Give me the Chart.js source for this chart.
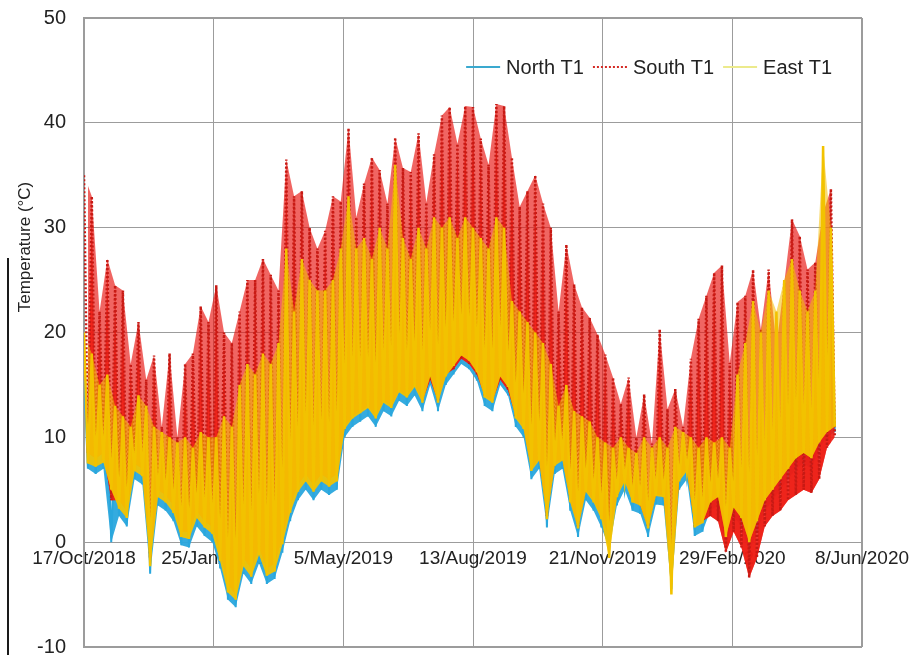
<!DOCTYPE html>
<html>
<head>
<meta charset="utf-8">
<title>Temperature T1</title>
<script src="https://cdn.jsdelivr.net/npm/chart.js@4.4.1/dist/chart.umd.min.js"></script>
<style>
  html, body { margin: 0; padding: 0; background: #fff; }
  #wrap { position: relative; width: 917px; height: 655px; }
  #edge { position: absolute; left: 7px; top: 258px; width: 2px; height: 397px; background: #1a1a1a; }
</style>
</head>
<body>
<div id="wrap">
  <canvas id="tempChart" width="917" height="655"></canvas>
  <div id="edge"></div>
</div>
<script>
// x axis: days since 17/Oct/2018, one label every 100 days
var dateLabels = ['17/Oct/2018', '25/Jan/2019', '5/May/2019', '13/Aug/2019', '21/Nov/2019', '29/Feb/2020', '8/Jun/2020'];
var seriesNames = ['North T1', 'South T1', 'East T1'];

// readings every 3 days: daily highs on days 0, 6, 12 ... and lows on days 3, 9, 15 ...
var dayStep = 3;

var northHigh = [16, 15, 13, 13, 11, 10, 9.5, 12, 11, 9.5,
  9, 8.5, 8, 8.5, 7.5, 9, 8.5, 8, 10, 9,
  12, 14, 13, 15, 14, 16, 23, 19, 22, 21,
  20, 21, 22, 24, 27, 24, 25, 24, 26, 24,
  29, 25, 24, 26, 25, 27, 26, 27, 26, 27,
  26, 25, 24, 27, 26, 20, 19, 18, 17, 16,
  15, 11.5, 13, 11, 10.5, 10, 9, 8.5, 8, 9,
  8, 7.5, 9, 8, 9, 8, 9.5, 9, 9, 8,
  9, 8.5, 9, 8, 13, 16, 19, 17, 20, 19,
  21, 23, 21, 19, 21, 30, 26];
var northLow = [7, 6.5, 7, 0, 2.5, 1.5, 6, 5.5, -3, 3.5,
  3, 2, -0.3, -0.5, 1.5, 0.6, 0, -2.5, -5.5, -6.2,
  -3, -4, -2, -4, -3.5, -1, 2, 4, 5, 4,
  5, 4.5, 5, 10, 11, 11.5, 12, 11, 12.5, 12,
  13.5, 13, 14, 12.5, 15, 12.5, 15, 16, 17, 16.5,
  15.4, 13, 12.5, 15, 14, 11, 10, 6, 7, 1.4,
  6.5, 7, 3, 0.5, 4, 3, 1.4, -0.5, 3.5, 5,
  3, 2.7, 0.5, 3.6, 3.5, -4.5, 5, 6, 0.6, 1,
  3, 3.5, -0.3, 2.5, 1.5, -1, 1, 3, 4, 5,
  6, 7, 7.5, 7, 9, 10, 10.5];

var southHigh = [35, 33, 22, 27, 24.5, 24, 17, 21, 15.5, 17.8,
  11, 18, 10, 17, 18, 22.5, 21, 24.5, 20, 19,
  22, 25, 25, 27, 25.5, 24, 36.5, 33, 33.5, 30,
  28, 29.7, 33, 32.5, 39.5, 31, 34.2, 36.7, 35.5, 32.3,
  38.6, 35.7, 35.3, 39, 32.4, 37, 40.7, 41.5, 38, 41.6,
  41.5, 38.5, 36, 41.8, 41.6, 36.7, 32, 33.5, 35, 32.3,
  30, 22, 28.4, 24.6, 22.4, 21.4, 19.8, 17.9, 15.7, 13.2,
  15.7, 10, 14.1, 9.4, 20.3, 12.7, 14.6, 11, 17.5, 21.3,
  23.5, 25.7, 26.4, 17.1, 22.9, 23.5, 26, 20.3, 26, 18.7,
  24.7, 30.8, 29.2, 26, 26.7, 31.4, 33.7];
var southLow = [8.5, 8, 8.5, 4, 4, 3, 7.5, 7, -1.5, 5,
  4.5, 3.5, 1, 1, 3, 2, 1.5, -1, -4, -5,
  -1.5, -2.5, -0.5, -2.5, -2, 0.5, 3.5, 5.5, 6.5, 5.5,
  6.5, 6, 6.5, 11, 12, 12.5, 13, 12, 13.5, 13,
  14.5, 14, 15, 13.5, 15.5, 13.5, 16, 16.5, 17.5, 17,
  16, 14, 13.5, 15.5, 14.5, 12, 11, 7, 8, 2.5,
  7.5, 8, 4, 1.5, 5, 4, 2.5, 0.5, 4.5, 6,
  4, 3.5, 1.5, 4.5, 4.5, -3.5, 6, 7, 1.5, 2,
  2.5, 2, -1, 1, -0.5, -3.4, -1.5, 1.5, 2.5, 3,
  4, 4.5, 5, 4.7, 6, 9, 10];

var eastHigh = [20, 18, 15, 16, 13, 12, 11, 14, 13, 11,
  10.5, 10, 9.5, 10, 9, 10.5, 10, 10, 12, 11,
  15, 17, 16, 18, 17, 19, 28, 22, 27, 25,
  24, 24, 25, 28, 33, 28, 29, 27, 30, 28,
  36, 29, 27, 30, 28, 31, 30, 31, 29, 31,
  30, 29, 28, 31, 30, 23, 22, 21, 20, 19,
  17, 13, 15, 12.5, 12, 11.5, 10, 9.5, 9, 10,
  9, 8.5, 10, 9, 10, 9, 11, 10.5, 10, 9,
  10, 9.5, 10, 9, 16, 19, 23, 20, 24, 22,
  25, 27, 24, 22, 24, 37.8, 30];
var eastLow = [7.5, 7.2, 7.6, 5, 3.2, 2.3, 6.8, 6.3, -2.3, 4.3,
  3.8, 2.8, 0.5, 0.3, 2.3, 1.4, 0.8, -1.8, -4.8, -5.5,
  -2.3, -3.3, -1.2, -3.2, -2.8, -0.2, 2.8, 4.8, 5.8, 4.8,
  5.8, 5.3, 5.8, 10.8, 11.8, 12.3, 12.8, 11.8, 13.3, 12.8,
  14.3, 13.8, 14.8, 13.3, 15.8, 13.3, 15.8, 16.8, 17.8, 17.3,
  16.2, 13.8, 13.3, 15.8, 14.8, 11.8, 10.8, 6.8, 7.8, 2.2,
  7.3, 7.8, 3.8, 1.3, 4.8, 3.8, 2.2, -1.5, 4.3, 5.8,
  3.8, 3.5, 1.3, 4.4, 4.3, -5, 5.8, 6.8, 1.4, 1.8,
  3.8, 4.3, 0.5, 3.3, 2.3, 0, 2, 4, 5, 6,
  7, 8, 8.5, 8, 9.5, 10.5, 11];

// put highs and lows back in time order
function toPoints(highs, lows) {
    var pts = [];
    for (var i = 0; i < highs.length; i++) {
        pts.push({ x: i * 2 * dayStep, y: highs[i] });
        if (i < lows.length) {
            pts.push({ x: (i * 2 + 1) * dayStep, y: lows[i] });
        }
    }
    return pts;
}

function highLine(highs) {
    return highs.map(function(v, i) { return { x: i * 2 * dayStep, y: v }; });
}
function lowLine(lows) {
    return lows.map(function(v, i) { return { x: (i * 2 + 1) * dayStep, y: v }; });
}

var textColor = '#222';
var gridColor = '#9c9c9c';
var lineColors = ['#2aa7dd', '#c81a14', '#f2c200'];
var fillColors = ['rgba(42,167,221,0.95)', 'rgba(238,30,22,0.92)', 'rgba(245,196,0,0.86)'];
var hazeColors = ['rgba(232,22,16,0.66)', 'rgba(244,190,0,0.55)'];
var legendColors = ['#3aa9cf', '#d42a24', '#ecea8c'];
Chart.defaults.font.family = "'Liberation Sans', Arial, sans-serif";

// legend drawn inside the plot + the y title (sits above the middle in the original)
var insideLegend = {
    id: 'insideLegend',
    afterDraw: function(chart) {
        var ctx = chart.ctx;
        var area = chart.chartArea;
        var sets = chart.data.datasets.slice(0, seriesNames.length);
        var sample = 34, gap = 6, spacing = 9;

        ctx.save();
        ctx.font = "20px 'Liberation Sans', Arial, sans-serif";
        ctx.textBaseline = 'middle';
        var total = spacing * (sets.length - 1);
        sets.forEach(function(ds) {
            total += sample + gap + ctx.measureText(ds.label).width;
        });
        var x = area.right - 30 - total;
        var y = area.top + 49;
        sets.forEach(function(ds, i) {
            ctx.strokeStyle = legendColors[i];
            ctx.lineWidth = 2;
            ctx.setLineDash(ds.borderDash || []);
            ctx.beginPath();
            ctx.moveTo(x, y);
            ctx.lineTo(x + sample, y);
            ctx.stroke();
            ctx.setLineDash([]);
            ctx.fillStyle = textColor;
            ctx.fillText(ds.label, x + sample + gap, y + 1);
            x += sample + gap + ctx.measureText(ds.label).width + spacing;
        });

        ctx.translate(25, area.top + 229);
        ctx.rotate(-Math.PI / 2);
        ctx.font = "17px 'Liberation Sans', Arial, sans-serif";
        ctx.textAlign = 'center';
        ctx.fillStyle = textColor;
        ctx.fillText('Temperature (°C)', 0, 0);
        ctx.restore();
    }
};

function edgeWidth(min, max) {
    return function(c) {
        return (c.tick && (c.tick.value === min || c.tick.value === max)) ? 2 : 1;
    };
}

// spread between a sensor's highs and lows, stands in for the dense daily strokes
function rangeSet(name, highs, floorIndex, color, order) {
    return {
        label: name + ' range',
        data: highLine(highs),
        borderColor: 'rgba(0,0,0,0)',
        borderWidth: 0,
        backgroundColor: color,
        fill: floorIndex,
        pointRadius: 0,
        order: order
    };
}
function floorSet(name, lows) {
    return {
        label: name + ' lows',
        data: lowLine(lows),
        borderColor: 'rgba(0,0,0,0)',
        borderWidth: 0,
        pointRadius: 0,
        order: 20
    };
}

var ctx = document.getElementById('tempChart').getContext('2d');
new Chart(ctx, {
    type: 'line',
    data: {
        datasets: [
            {
                label: seriesNames[0],
                data: toPoints(northHigh, northLow),
                borderColor: lineColors[0],
                backgroundColor: fillColors[0],
                fill: 5,
                borderWidth: 2,
                pointRadius: 0,
                order: 5
            },
            {
                label: seriesNames[1],
                data: toPoints(southHigh, southLow),
                borderColor: lineColors[1],
                backgroundColor: fillColors[1],
                fill: 6,
                borderDash: [2, 2],
                borderWidth: 2.5,
                pointRadius: 0,
                order: 3
            },
            {
                label: seriesNames[2],
                data: toPoints(eastHigh, eastLow),
                borderColor: lineColors[2],
                backgroundColor: fillColors[2],
                fill: 7,
                borderWidth: 2.5,
                pointRadius: 0,
                order: 0
            },
            rangeSet(seriesNames[1], southHigh, 6, hazeColors[0], 4),
            rangeSet(seriesNames[2], eastHigh, 7, hazeColors[1], 1),
            floorSet(seriesNames[0], northLow),
            floorSet(seriesNames[1], southLow),
            floorSet(seriesNames[2], eastLow)
        ]
    },
    options: {
        responsive: false,
        animation: false,
        layout: { padding: { left: 0, right: 55, top: 18, bottom: 8 } },
        plugins: {
            legend: { display: false },
            tooltip: { enabled: false }
        },
        scales: {
            x: {
                type: 'linear',
                position: { y: 0 },
                min: 0,
                max: 600,
                ticks: {
                    stepSize: 100,
                    autoSkip: false,
                    maxRotation: 0,
                    padding: 5,
                    color: textColor,
                    font: { size: 19 },
                    callback: function(value) { return dateLabels[value / 100]; }
                },
                grid: { color: gridColor, lineWidth: edgeWidth(0, 600), drawTicks: false },
                border: { display: false },
                afterFit: function(scale) {
                    scale.height = 0;
                    scale.paddingLeft = 0;
                    scale.paddingRight = 0;
                }
            },
            y: {
                min: -10,
                max: 50,
                ticks: {
                    stepSize: 10,
                    padding: 18,
                    color: textColor,
                    font: { size: 20 }
                },
                grid: { color: gridColor, lineWidth: edgeWidth(-10, 50), drawTicks: false },
                border: { color: gridColor, width: 2 },
                afterFit: function(scale) {
                    scale.width = 84;
                    scale.paddingTop = 0;
                    scale.paddingBottom = 0;
                }
            }
        }
    },
    plugins: [insideLegend]
});
</script>
</body>
</html>
